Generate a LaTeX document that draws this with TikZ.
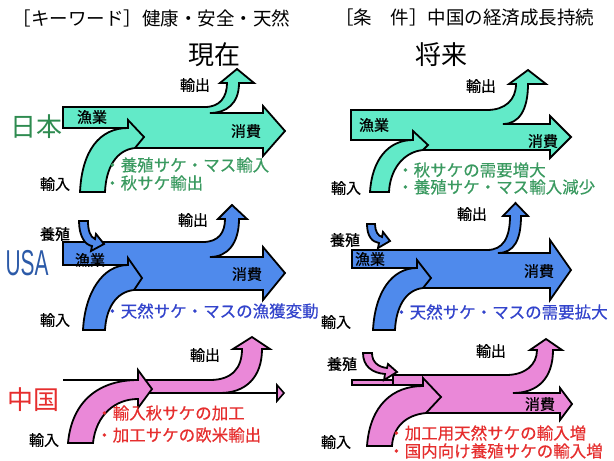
\documentclass[tikz,border=0pt]{standalone}
\usepackage{fontspec}
\setmainfont{Noto Sans CJK JP}
\newfontfamily\latf{Liberation Sans}
\newfontfamily\jpbold[FakeBold=0.8]{Noto Sans CJK JP}
\newfontfamily\jpmed[FakeBold=0.4]{Noto Sans CJK JP}
\definecolor{jpfill}{HTML}{62EAC8}
\definecolor{usfill}{HTML}{4F8AEC}
\definecolor{cnfill}{HTML}{EA88D8}
\definecolor{jptext}{HTML}{2E8B50}
\definecolor{jpbul}{HTML}{3A9A60}
\definecolor{ustext}{HTML}{2C5AA8}
\definecolor{usbul}{HTML}{3344CC}
\definecolor{cntext}{HTML}{E62E2E}
\tikzset{
  flow/.style={draw=black, line width=1.8pt, line join=miter, miter limit=10},
  lbl/.style={font=\jpbold\fontsize{15}{15}\selectfont, inner sep=0pt, text=black},
  bul/.style={font=\jpmed\fontsize{16.5}{16.5}\selectfont, inner sep=0pt, anchor=west},
  country/.style={font=\fontsize{26}{26}\selectfont, inner sep=0pt},
  title/.style={font=\fontsize{26}{26}\selectfont, inner sep=0pt},
  head/.style={font=\fontsize{18.5}{18.5}\selectfont, inner sep=0pt, anchor=west},
  thinline/.style={draw=black, line width=2.6pt}
}
\begin{document}
\begin{tikzpicture}[x=1pt,y=-1pt]
\useasboundingbox (0,0) rectangle (614,461);
\fill[white] (0,0) rectangle (614,461);

% headers
\node[head] (hl) at (12.5,18) {［キーワード］健康・安全・天然};
\node[head] (hr) at (335,18) {［条　件］中国の経済成長持続};
\node[title] (now) at (214,55) {現在};
\node[title] (fut) at (441,55) {将来};

% ---------- Japan current ----------
\path[flow, fill=jpfill] (63,107) -- (205,107) .. controls (220,107) and (227,97) .. (227,83)
  -- (220,83) -- (237,69) -- (254,83) -- (239,83) .. controls (239,104) and (226,113) .. (210,113)
  -- (263,113) -- (263,106) -- (285,131) -- (263,156) -- (263,148) -- (135,148) -- (128,128) -- (63,128) -- cycle;
\path[flow, fill=jpfill] (80,192) .. controls (82,150) and (100,128) .. (128,128) -- (128,120) -- (144,137)
  -- (135,148) .. controls (116,150) and (106,168) .. (105,192) -- cycle;
\node[lbl] (j1out) at (195,85) {輸出};
\node[lbl] (j1fish) at (92,117) {漁業};
\node[lbl] (j1cons) at (246,131) {消費};
\node[lbl] (j1imp) at (55,184) {輸入};
\node[country, text=jptext] (jp) at (36,127) {日本};
\node[bul, text=jpbul] (j1b1) at (104,165) {・養殖サケ・マス輸入};
\node[bul, text=jpbul] (j1b2) at (104,183) {・秋サケ輸出};

% ---------- Japan future ----------
\path[flow, fill=jpfill] (351,110) -- (487,110) .. controls (505,110) and (516,100) .. (516,84)
  -- (509,84) -- (528,70) -- (546,84) -- (528,84) .. controls (528,110) and (519,124) .. (503,124)
  -- (550,124) -- (550,116) -- (571,137) -- (550,158) -- (550,150) -- (423,150) -- (413,140) -- (351,140) -- cycle;
\path[flow, fill=jpfill] (370,192) .. controls (372,160) and (388,140) .. (413,140) -- (413,131) -- (428,145)
  -- (423,150) .. controls (403,152) and (390,170) .. (389,192) -- cycle;
\node[lbl] (j2out) at (481,86) {輸出};
\node[lbl] (j2fish) at (374,125) {漁業};
\node[lbl] (j2cons) at (543,141) {消費};
\node[lbl] (j2imp) at (346,188) {輸入};
\node[bul, text=jpbul] (j2b1) at (397,170) {・秋サケの需要増大};
\node[bul, text=jpbul] (j2b2) at (397,187) {・養殖サケ・マス輸入減少};

% ---------- USA current ----------
\path[flow, fill=usfill] (63,242) -- (203,242) .. controls (219,242) and (225,232) .. (225,219)
  -- (218,219) -- (232,205) -- (247,219) -- (239,219) .. controls (239,244) and (227,257) .. (210,257)
  -- (263,257) -- (263,247) -- (285,273) -- (263,300) -- (263,290) -- (134,290) -- (128,265) -- (63,265) -- cycle;
\path[flow, fill=usfill] (83,330) .. controls (85,292) and (103,265) .. (128,265) -- (128,258) -- (142,278)
  -- (134,290) .. controls (115,292) and (106,310) .. (105,330) -- cycle;
\path[flow, fill=usfill] (79,221) .. controls (79,236) and (85,245) .. (92,246) -- (91,251) -- (104,244)
  -- (96,234) -- (95,239) .. controls (90,237) and (88,230) .. (88,221) -- cycle;
\node[lbl] (u1farm) at (55,234) {養殖};
\node[lbl] (u1out) at (193,220) {輸出};
\node[lbl] (u1fish) at (90,260) {漁業};
\node[lbl] (u1cons) at (247,274) {消費};
\node[lbl] (u1imp) at (55,320) {輸入};
\node[inner sep=0pt, text=ustext] (us) at (27,263) {\scalebox{0.58}[1]{\latf\fontsize{36}{36}\selectfont USA}};
\node[bul, text=usbul] (u1b1) at (104,311) {・天然サケ・マスの漁獲変動};

% ---------- USA future ----------
\path[flow, fill=usfill] (352,250) -- (487,250) .. controls (503,250) and (510,238) .. (510,216)
  -- (503,216) -- (515.5,203) -- (528,216) -- (521,216) .. controls (521,240) and (514,253) .. (498,253)
  -- (550,253) -- (550,240) -- (571,270) -- (550,300) -- (550,288) -- (423,288) -- (417,268) -- (352,268) -- cycle;
\path[flow, fill=usfill] (373,330) .. controls (375,292) and (392,268) .. (417,268) -- (417,260) -- (431,278)
  -- (423,288) .. controls (405,290) and (396,308) .. (395,330) -- cycle;
\path[flow, fill=usfill] (367,224) .. controls (367,236) and (372,242) .. (379,243) -- (378,248) -- (390,241)
  -- (383,232) -- (382,237) .. controls (378,236) and (375,231) .. (375,224) -- cycle;
\node[lbl] (u2farm) at (345,240) {養殖};
\node[lbl] (u2out) at (472,214) {輸出};
\node[lbl] (u2fish) at (370,259) {漁業};
\node[lbl] (u2cons) at (539,271) {消費};
\node[lbl] (u2imp) at (336,322) {輸入};
\node[bul, text=usbul] (u2b1) at (393,312) {・天然サケ・マスの需要拡大};

% ---------- China current ----------
\coordinate (c1fa) at (63,380);
\coordinate (c1fb) at (150,380);
\draw[thinline] (c1fa) -- (c1fb);
\coordinate (c1ca) at (218,393);
\coordinate (c1cb) at (277,393);
\draw[thinline] (c1ca) -- (c1cb);
\path[draw=black, line width=1.6pt, fill=cnfill] (277,385) -- (284,393) -- (277,401) -- cycle;
\path[flow, fill=cnfill] (145,380) -- (210,380) .. controls (232,380) and (242,368) .. (242,349)
  -- (233,349) -- (252,337) -- (270,349) -- (262,349) .. controls (262,378) and (245,393) .. (220,393)
  -- (145,393) -- cycle;
\path[flow, fill=cnfill] (68,443) .. controls (72,400) and (100,380) .. (138,380) -- (138,370) -- (152,389)
  -- (138,408) -- (138,399) .. controls (115,399) and (96,415) .. (93,443) -- cycle;
\node[lbl] (c1out) at (205,355) {輸出};
\node[lbl] (c1imp) at (44,440) {輸入};
\node[country, text=cntext] (cn) at (34,400) {中国};
\node[bul, text=cntext] (c1b1) at (96,413) {・輸入秋サケの加工};
\node[bul, text=cntext] (c1b2) at (96,435) {・加工サケの欧米輸出};

% ---------- China future ----------
\path[flow, fill=cnfill] (352,380) rectangle (423,385);
\path[flow, fill=cnfill] (393,375) -- (506,375) .. controls (525,375) and (537,365) .. (537,350)
  -- (530,350) -- (546,339) -- (562,350) -- (553,350) .. controls (553,378) and (538,393) .. (513,393)
  -- (560,393) -- (560,388) -- (572,404) -- (560,420) -- (560,413) -- (426,413) -- (423,385) -- (393,385) -- cycle;
\path[flow, fill=cnfill] (367,446) .. controls (370,405) and (393,386) .. (423,386) -- (423,378) -- (441,397)
  -- (426,413) .. controls (405,415) and (393,428) .. (392,446) -- cycle;
\path[flow, fill=cnfill] (363,353) .. controls (363,366) and (372,373) .. (385,374) -- (384,380) -- (397,372)
  -- (388,364) -- (387,368) .. controls (378,367) and (372,362) .. (372,353) -- cycle;
\node[lbl] (c2farm) at (342,364) {養殖};
\node[lbl] (c2out) at (491,351) {輸出};
\node[lbl] (c2cons) at (540,404) {消費};
\node[lbl] (c2imp) at (336,442) {輸入};
\node[bul, text=cntext] (c2b1) at (388,433) {・加工用天然サケの輸入増};
\node[bul, text=cntext] (c2b2) at (388,451) {・国内向け養殖サケの輸入増};
\end{tikzpicture}
\end{document}
